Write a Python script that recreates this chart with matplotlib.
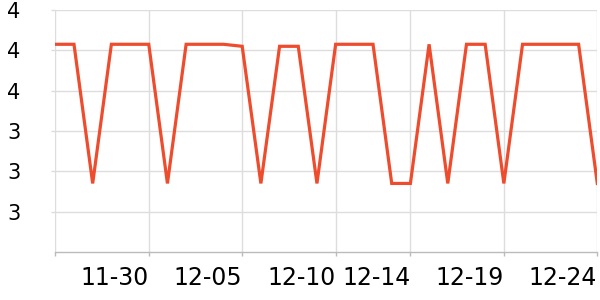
import matplotlib
matplotlib.use("Agg")
import matplotlib.pyplot as plt
import matplotlib.ticker as mticker
import pandas as pd

# daily values, 11-25 .. 12-24
dates = pd.date_range("2023-11-25", "2023-12-24", freq="D").strftime("%m-%d").tolist()
values = [4.23, 4.23, 3.54, 4.23, 4.23, 4.23, 3.54, 4.23, 4.23, 4.23,
          4.22, 3.54, 4.22, 4.22, 3.54, 4.23, 4.23, 4.23, 3.54, 3.54,
          4.23, 3.54, 4.23, 4.23, 3.54, 4.23, 4.23, 4.23, 4.23, 3.54]
tick_dates = ["11-25", "11-30", "12-05", "12-10", "12-14", "12-19", "12-24"]
tick_labels = ["", "11-30", "12-05", "12-10", "12-14", "12-19", "12-24"]
y_ticks = [3.4, 3.6, 3.8, 4.0, 4.2, 4.4]

fig = plt.figure(figsize=(6, 3), dpi=100)
ax = fig.add_axes([55.3 / 600, 1 - 252 / 300, 542 / 600, 242 / 300])

x = list(range(len(dates)))
ax.plot(x, values, color="#ef4b2d", linewidth=2.3, solid_joinstyle="miter")

ax.set_xlim(0, len(dates) - 1)
ax.set_ylim(3.2, 4.4)
ax.set_xticks([dates.index(d) for d in tick_dates], labels=tick_labels)
ax.set_yticks(y_ticks)
# labels shown truncated to whole numbers
ax.yaxis.set_major_formatter(mticker.FuncFormatter(lambda v, p: str(int(v + 1e-9))))

ax.grid(True, color="#dddddd", linewidth=1)
ax.set_axisbelow(True)
for side in ["top", "right", "left"]:
    ax.spines[side].set_visible(False)
ax.spines["bottom"].set_color("#bbbbbb")
ax.spines["bottom"].set_linewidth(1)

ax.tick_params(axis="x", length=3, width=1, color="#bbbbbb", labelsize=17, pad=7)
ax.tick_params(axis="y", length=3, width=1, color="#dddddd", labelsize=15, pad=22)
for lbl in ax.get_xticklabels():
    lbl.set_horizontalalignment("right")

fig.savefig("out.png", dpi=100)
